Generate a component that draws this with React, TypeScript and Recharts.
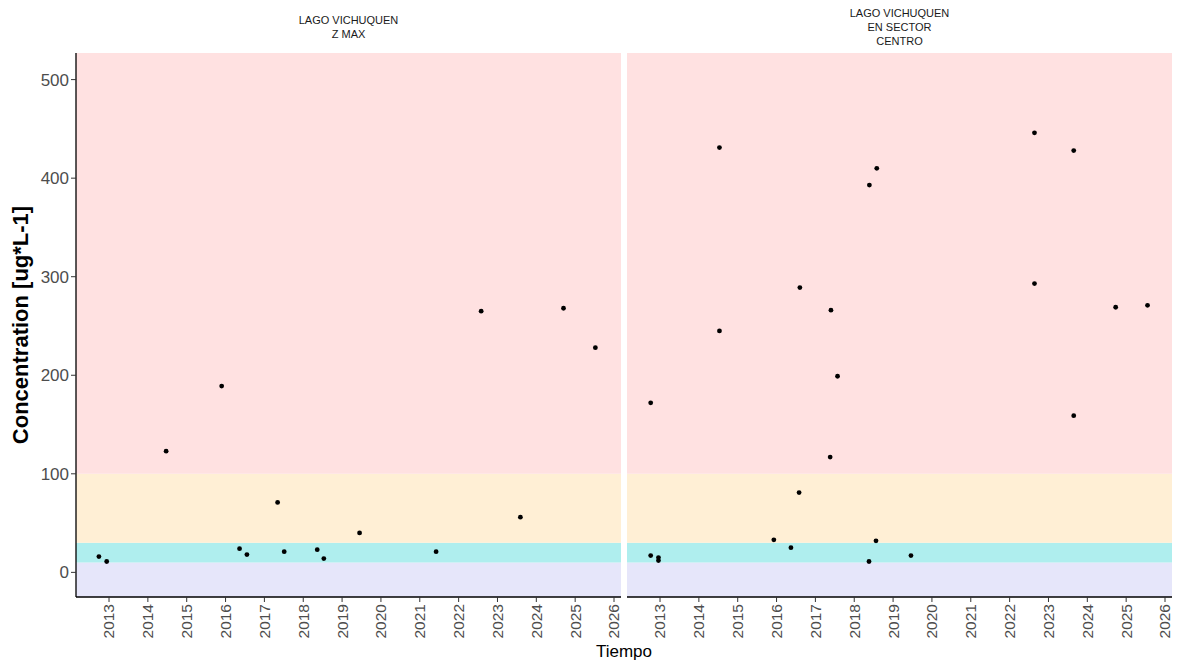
import { ScatterChart, Scatter, XAxis, YAxis, ReferenceArea } from "recharts";

// decimal years / concentrations
const zmaxYears = [
  2012.74, 2012.94, 2014.47, 2015.9, 2016.36, 2016.55, 2017.34, 2017.51,
  2018.36, 2018.53, 2019.45, 2021.42, 2022.58, 2023.59, 2024.7, 2025.52,
];
const zmaxValues = [16, 11, 123, 189, 24, 18, 71, 21, 23, 14, 40, 21, 265, 56, 268, 228];

const centroYears = [
  2012.76, 2012.76, 2012.96, 2012.96, 2014.53, 2014.53, 2015.93, 2016.37,
  2016.6, 2016.58, 2017.4, 2017.38, 2017.57, 2018.39, 2018.38, 2018.58,
  2018.56, 2019.46, 2022.64, 2022.64, 2023.65, 2023.65, 2024.73, 2025.55,
];
const centroValues = [
  172, 17, 15, 12, 431, 245, 33, 25, 289, 81, 266, 117, 199, 393, 11, 410,
  32, 17, 446, 293, 428, 159, 269, 271,
];

const yearTicks = [2013, 2014, 2015, 2016, 2017, 2018, 2019, 2020, 2021, 2022, 2023, 2024, 2025, 2026];
const concTicks = [0, 100, 200, 300, 400, 500];

const panelTitles = [["LAGO VICHUQUEN", "Z MAX"], ["LAGO VICHUQUEN", "EN SECTOR", "CENTRO"]];

// concentration bands: [from, to, colour]
const bands: [number, number, string][] = [
  [-25, 10, "#E6E6FA"],
  [10, 30, "#AFEEEE"],
  [30, 100, "#FFEFD5"],
  [100, 527, "#FFE1E1"],
];

const X_DOMAIN = [2012.15, 2026.18];
const Y_DOMAIN = [-25, 527];
const FONT = "'Liberation Sans', Arial, sans-serif";

const toRows = (years: number[], values: number[]) =>
  years.map((year, i) => ({ year, value: values[i] }));

const Dot = (props: any) => <circle cx={props.cx} cy={props.cy} r={2.4} fill="#000" />;

const YearTick = ({ x, y, payload }: any) => (
  <text
    x={x}
    y={y}
    transform={`rotate(-90, ${x}, ${y})`}
    textAnchor="end"
    dy="0.35em"
    fontSize={15.5}
    fill="#4D4D4D"
    fontFamily={FONT}
  >
    {payload.value}
  </text>
);

const Panel = ({ rows, showY, width }: { rows: any[]; showY: boolean; width: number }) => (
  <ScatterChart width={width} height={665} margin={{ top: 53, right: 4, bottom: 0, left: 0 }}>
    {bands.map(([y1, y2, c]) => (
      <ReferenceArea key={y1} y1={y1} y2={y2} fill={c} fillOpacity={1} stroke="none" ifOverflow="hidden" />
    ))}
    <XAxis
      type="number"
      dataKey="year"
      domain={X_DOMAIN}
      ticks={yearTicks}
      allowDataOverflow
      height={68}
      interval={0}
      tick={<YearTick />}
      tickSize={5}
      axisLine={{ stroke: "#000", strokeWidth: 1.3 }}
      tickLine={{ stroke: "#333" }}
    />
    <YAxis
      type="number"
      dataKey="value"
      domain={Y_DOMAIN}
      ticks={concTicks}
      allowDataOverflow
      hide={!showY}
      width={76}
      tickSize={5}
      tick={{ fontSize: 17, fill: "#4D4D4D", fontFamily: FONT }}
      axisLine={{ stroke: "#000", strokeWidth: 1.3 }}
      tickLine={{ stroke: "#333" }}
    />
    <Scatter data={rows} shape={<Dot />} isAnimationActive={false} />
  </ScatterChart>
);

export default function App() {
  const zmax = toRows(zmaxYears, zmaxValues);
  const centro = toRows(centroYears, centroValues);

  return (
    <div style={{ position: "absolute", left: 0, top: 0, width: 1181, height: 665, background: "#fff", fontFamily: FONT }}>
      <div style={{ position: "absolute", left: 0, top: 0 }}>
        <Panel rows={zmax} showY width={625} />
      </div>
      <div style={{ position: "absolute", left: 627, top: 0 }}>
        <Panel rows={centro} showY={false} width={549} />
      </div>

      {panelTitles.map((lines, i) => (
        <div
          key={i}
          style={{
            position: "absolute",
            left: i === 0 ? 76 : 627,
            width: 545,
            top: 27 - (lines.length * 14) / 2,
            textAlign: "center",
            fontSize: 11,
            lineHeight: "14px",
            color: "#1A1A1A",
          }}
        >
          {lines.map((l) => (
            <div key={l}>{l}</div>
          ))}
        </div>
      ))}

      <div
        style={{
          position: "absolute",
          left: 21,
          top: 325,
          transform: "translate(-50%, -50%) rotate(-90deg)",
          whiteSpace: "nowrap",
          fontSize: 22,
          fontWeight: "bold",
          color: "#000",
        }}
      >
        Concentration [ug*L-1]
      </div>

      <div
        style={{
          position: "absolute",
          left: 624,
          top: 652,
          transform: "translate(-50%, -50%)",
          fontSize: 17,
          color: "#000",
        }}
      >
        Tiempo
      </div>
    </div>
  );
}
